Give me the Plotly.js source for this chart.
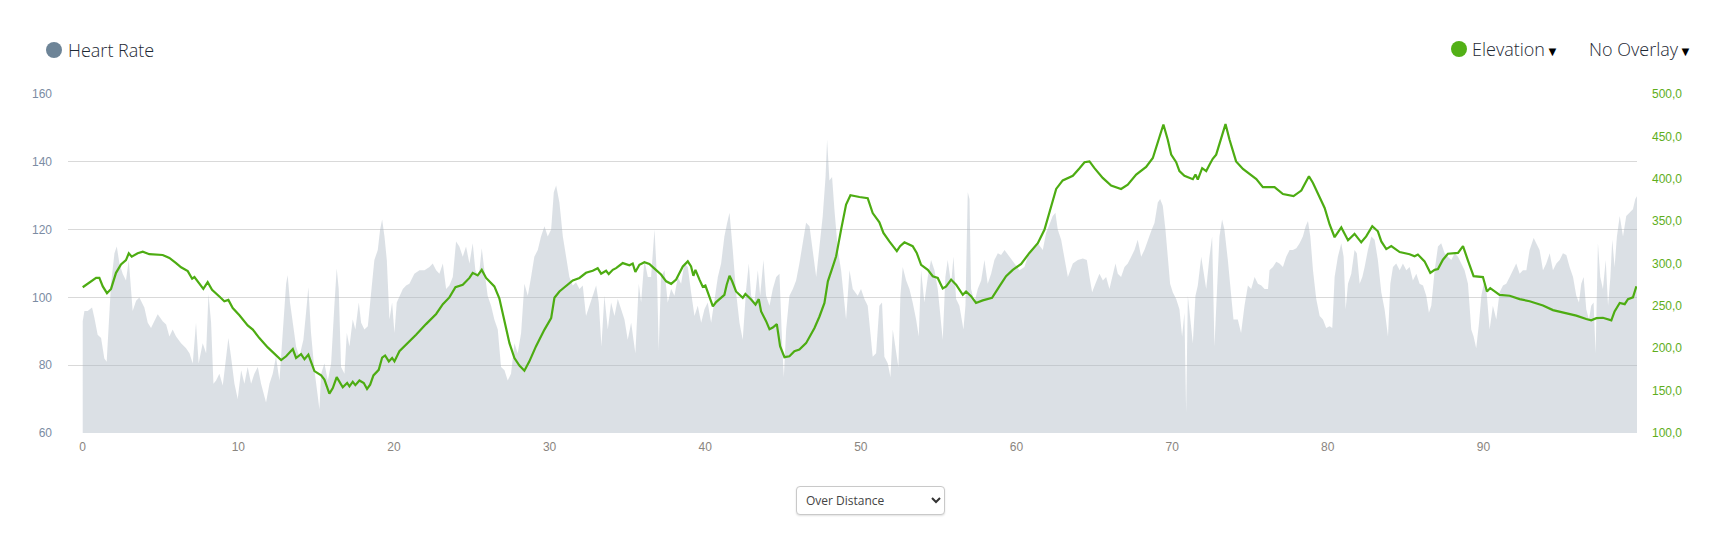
<!DOCTYPE html>
<html>
<head>
<meta charset="utf-8">
<script src="https://cdn.plot.ly/plotly-3.0.1.min.js"></script>
<style>
  html, body { margin: 0; padding: 0; background: #fff; }
  #wrap { position: relative; width: 1728px; height: 552px; overflow: hidden; }
  #chart { position: absolute; left: 0; top: 0; width: 1728px; height: 552px; }
  .hdr { position: absolute; font-family: "Open Sans", "Noto Sans", sans-serif; font-weight: 300;
         font-size: 18px; line-height: 20px; color: #1d2833; white-space: nowrap; z-index: 5; }
  .dot { position: absolute; width: 16px; height: 16px; border-radius: 50%; z-index: 5; }
  .arr { font-family: "DejaVu Sans", sans-serif; font-size: 13px; color: #000; margin-left: 1px; }
  #selwrap { position: absolute; left: 796px; top: 486px; width: 149px; height: 29px; z-index: 5; }
  #sel { -webkit-appearance: none; appearance: none; width: 149px; height: 29px; box-sizing: border-box;
         border: 1px solid #c9c9c9; border-radius: 4px; background: #fff; box-shadow: 0 1px 2px rgba(0,0,0,0.12);
         font-family: "Open Sans", sans-serif; font-size: 12px; color: #444; padding: 0 0 0 9px; outline: none; }
  #chev { position: absolute; left: 135px; top: 11px; pointer-events: none; }
</style>
</head>
<body>
<div id="wrap">
  <div id="chart"></div>
  <div class="dot" style="left:46px; top:42px; background:#6d8497;"></div>
  <div class="hdr" style="left:68px; top:40px;">Heart Rate</div>
  <div class="dot" style="left:1451px; top:41px; background:#52b016;"></div>
  <div class="hdr" style="left:1472px; top:39px;">Elevation<span class="arr">▼</span></div>
  <div class="hdr" style="left:1589px; top:39px;">No Overlay<span class="arr">▼</span></div>
  <div id="selwrap">
    <select id="sel"><option>Over Distance</option><option>Over Time</option></select>
    <svg id="chev" width="10" height="7" viewBox="0 0 10 7"><path d="M1 1 L5 5 L9 1" stroke="#333" stroke-width="2" fill="none"/></svg>
  </div>
</div>
<script>
// Distance (km) and heart rate (bpm)
const hrKm = [0.00,0.11,0.32,0.60,0.75,0.96,1.18,1.39,1.54,1.67,1.82,2.04,2.19,2.36,2.57,2.78,2.96,3.11,3.21,3.43,3.64,3.96,4.18,4.39,4.61,4.82,5.14,5.36,5.57,5.78,6.00,6.32,6.64,6.86,7.07,7.28,7.45,7.71,7.93,8.08,8.25,8.40,8.57,8.78,9.00,9.21,9.36,9.53,9.75,9.96,10.18,10.39,10.60,10.82,11.03,11.25,11.46,11.78,12.00,12.21,12.42,12.64,12.85,13.07,13.17,13.32,13.50,13.71,13.92,14.18,14.35,14.50,14.67,14.89,15.10,15.21,15.32,15.53,15.75,15.96,16.17,16.32,16.45,16.60,16.82,16.97,17.14,17.35,17.52,17.74,17.89,18.10,18.32,18.53,18.74,18.96,19.11,19.24,19.39,19.54,19.71,19.88,20.03,20.18,20.35,20.57,20.78,20.99,21.31,21.64,21.96,22.28,22.49,22.71,22.92,23.14,23.35,23.56,23.78,23.99,
24.20,24.42,24.63,24.85,25.06,25.23,25.45,25.64,25.81,26.02,26.24,26.45,26.67,26.88,27.10,27.31,27.52,27.74,27.95,28.17,28.38,28.60,28.81,29.02,29.24,29.45,29.67,29.88,30.10,30.27,30.42,30.63,30.85,31.06,31.27,31.49,31.70,31.92,32.13,32.34,32.56,32.77,32.99,33.16,33.33,33.52,33.74,33.95,34.17,34.38,34.59,34.81,35.02,35.24,35.51,35.73,35.88,36.09,36.31,36.52,36.74,36.91,37.01,37.16,37.38,37.59,37.81,38.02,38.24,38.45,38.66,38.88,39.09,39.31,39.52,39.74,39.95,40.16,40.38,40.59,40.81,41.02,41.23,41.41,41.56,41.77,41.98,42.20,42.41,42.63,42.80,42.95,43.16,43.38,43.53,43.74,43.91,44.13,44.34,44.56,44.77,44.94,45.05,45.20,45.41,45.63,45.84,46.05,46.27,46.48,46.70,46.91,47.13,47.34,47.55,47.73,47.83,47.98,48.15,48.30,48.52,48.73,48.88,49.05,49.27,49.48,
49.80,50.01,50.23,50.44,50.59,50.76,50.98,51.19,51.36,51.51,51.73,51.90,52.05,52.22,52.41,52.54,52.69,52.91,53.12,53.33,53.55,53.72,53.87,54.08,54.30,54.51,54.73,54.94,55.16,55.26,55.43,55.58,55.80,55.95,56.12,56.33,56.59,56.72,56.87,56.98,57.08,57.30,57.51,57.73,57.94,58.15,58.37,58.58,58.80,59.01,59.23,59.55,59.87,60.19,60.51,60.72,61.05,61.37,61.69,61.90,62.16,62.33,62.50,62.65,62.87,63.08,63.30,63.62,63.94,64.26,64.52,64.69,64.86,65.07,65.33,65.55,65.76,65.97,66.19,66.36,66.51,66.72,66.94,67.15,67.37,67.58,67.79,68.01,68.22,68.44,68.65,68.87,69.08,69.23,69.40,69.57,69.72,69.87,70.04,70.26,70.47,70.64,70.79,70.90,71.01,71.22,71.33,71.50,71.65,71.87,72.01,72.19,72.40,72.57,72.72,72.87,73.04,73.21,73.36,73.58,73.79,73.94,74.22,74.43,74.65,
74.87,75.08,75.30,75.51,75.73,75.94,76.16,76.26,76.48,76.69,76.90,77.12,77.33,77.55,77.76,77.98,78.19,78.40,78.58,78.73,78.88,79.05,79.26,79.48,79.69,79.90,80.12,80.29,80.44,80.65,80.87,81.02,81.15,81.30,81.51,81.72,81.87,82.05,82.22,82.37,82.58,82.80,83.01,83.22,83.44,83.65,83.87,84.02,84.19,84.40,84.62,84.83,85.05,85.26,85.47,85.69,85.90,86.12,86.33,86.50,86.65,86.87,87.08,87.29,87.51,87.72,87.94,88.15,88.37,88.58,88.79,89.01,89.22,89.37,89.54,89.72,89.87,90.02,90.19,90.40,90.61,90.83,91.04,91.26,91.47,91.69,91.90,92.11,92.33,92.54,92.76,92.97,93.23,93.40,93.61,93.83,94.04,94.26,94.47,94.69,94.90,95.11,95.33,95.54,95.76,95.97,96.14,96.29,96.44,96.61,96.78,96.93,97.08,97.21,97.36,97.51,97.68,97.86,98.01,98.16,98.28,98.43,98.58,98.76,98.97,99.18,99.40,99.61,99.76,99.89];
const hrBpm = [93,96,96,97,94,89,88,82,81,92,104,113,115,110,107,105,111,102,96,99,100,97,92.5,91,93,95,93,92,88.5,90.5,88.5,86.5,85,83.5,80.5,92.5,80.5,86.5,83.5,101,92.5,74.5,75.5,77.5,74,82.5,88,82.5,74.5,70,78.5,74.5,79.5,74.5,77.5,79.5,74.5,69,74.5,77.5,82.5,75.5,90.5,104,106.5,98.5,92.5,85.5,82.5,87.5,95.5,103,89.5,78.5,71,67,77.5,80.5,75.5,80.5,97.5,108.5,102.5,79.5,77.5,89.5,85.5,93.5,90.5,98.5,92.5,90.5,91.5,102.5,111,114,120,123,118,111,93.5,98.5,89.5,98.5,100.5,102.5,103.5,104,107,108,108,109,110,108,107,110,102.5,103.5,106,116.5,
115,112,115,110,116,108,106,114.5,108,100.5,97.5,93.5,90.5,79.5,78.5,75.5,77.5,86.5,83.5,89.5,104,100.5,106,112,114,118,121,118,120,131,133,128,118,112,106,103.5,104.5,102.5,103.5,94.5,97.5,100.5,103.5,98.5,85.5,100.5,90.5,98.5,94.5,99.5,96.5,93.5,87.5,92.5,83.5,104,98.5,111,106,106,120,105,84.5,106,108,98.5,102.5,100.5,106,104,110,109,101.5,94.5,97.5,92.5,96.5,98.5,92.5,98.5,106,110,118,122,125,114,101.5,92.5,87.5,102.5,110,100.5,98.5,108,100.5,111,100.5,97.5,102.5,106,107,86.5,76.5,90.5,100.5,102.5,105,110,116,122,121,114,106,115,124,135.5,146.5,134.5,135.5,126,114,108,100.5,93.5,108,102.5,
100.5,102.5,99.5,97.5,90.5,82.5,83.5,97.5,98.5,82.5,80.5,76.5,90.5,85,79.5,100.5,109,105,102.5,98.5,93.5,88.5,108,98.5,106,111,108,102.5,92.5,87.5,106,111,104,112,99.5,97.5,90.5,97.5,131,129,102.5,98.5,102.5,105,111,104,107,111,113,112.5,114,112,110,108,109,112,114,116,114,119,122,124,125,120,117,112,106,110,111,111.5,111,106,101.5,104,107,105,106,102.5,107,110,107,106,109,110,112,114,117,112,114,117,119.5,122,128,129,127,120,111,104,101.5,99.5,96.5,88.5,95.5,66,100.5,92.5,86.5,100.5,103.5,112,108,102.5,112,118,85.5,102.5,118,123,120,111,100.5,93.5,93.5,89.5,97.5,
103.5,102.5,106,104,103.5,102.5,102.5,108,109,110.5,110,109,112,114,114,114.5,116,118,121,122.5,118,108,99.5,94.5,93.5,91,91.5,91,106,112,116,112,96.5,104,107,114,113,104,106,109,114,118,117,111,101.5,96.5,88.5,104,109,110,108,110,108,109,105,107,104,103.5,100.5,95.5,97.5,108,115,116,113,112,111,113,112,110,108,104,90.5,88.5,85,92.5,100.5,104,102.5,90.5,97.5,93.5,101.5,103.5,104,106,108,110,107,108,108,114,117.5,116,114,108,110,113,108,110,111,113,112.5,109,106,100.5,98.5,104,106,96.5,93.5,97.5,98.5,83.5,116,106,102.5,111,97.5,106,117,109,118,124,118,124,125,126,129,130];

// Distance (km) and elevation (m)
const elKm = [0.00,0.54,0.86,1.07,1.29,1.56,1.82,2.14,2.46,2.78,2.96,3.15,3.53,3.86,4.28,5.14,5.57,6.00,6.32,6.75,7.03,7.18,7.45,7.75,8.03,8.31,8.78,9.10,9.36,9.64,10.07,10.60,10.93,11.35,11.89,12.32,12.75,13.07,13.50,13.71,14.03,14.25,14.50,14.89,15.32,15.53,15.85,16.07,16.32,16.71,16.99,17.14,17.35,17.52,17.78,18.06,18.27,18.47,18.68,19.02,19.24,19.43,19.67,19.88,20.03,20.35,20.78,21.42,22.06,22.71,23.14,23.56,23.95,
24.42,24.85,25.06,25.38,25.64,25.92,26.45,26.77,27.10,27.42,27.74,28.06,28.38,28.70,29.13,29.67,30.10,30.31,30.63,31.06,31.49,31.92,32.34,32.77,33.09,33.31,33.63,33.80,34.06,34.27,34.70,35.13,35.34,35.51,35.77,36.09,36.41,36.74,37.16,37.49,37.81,38.13,38.56,38.88,39.09,39.24,39.37,39.63,39.84,40.01,40.27,40.49,40.70,41.02,41.23,41.38,41.56,41.73,41.98,42.41,42.58,42.95,43.23,43.44,43.59,43.91,44.13,44.34,44.60,44.81,45.09,45.41,45.73,46.05,46.48,47.02,47.34,47.66,47.88,48.20,48.41,48.73,49.05,49.33,
49.59,49.91,50.44,50.76,51.19,51.45,51.83,52.31,52.52,52.80,53.33,53.59,53.87,54.30,54.62,54.94,55.26,55.48,55.80,56.12,56.55,56.76,57.08,57.40,57.83,58.43,58.90,59.33,59.76,60.30,60.83,61.37,61.80,62.12,62.55,62.97,63.62,64.05,64.37,64.69,65.01,65.54,66.08,66.72,67.15,67.69,68.33,68.76,69.08,69.44,69.72,69.94,70.26,70.47,70.79,71.33,71.50,71.65,71.93,72.19,72.40,72.61,72.83,73.15,73.43,73.69,74.11,
74.55,74.98,75.41,75.83,76.58,77.12,77.80,78.30,78.51,78.79,79.05,79.48,79.80,80.12,80.44,80.87,81.30,81.72,82.15,82.47,82.86,83.22,83.44,83.76,84.08,84.62,85.26,85.58,85.79,86.22,86.59,86.87,87.08,87.40,87.72,88.37,88.69,89.01,89.37,89.97,90.23,90.44,91.04,91.69,92.33,92.97,93.83,94.47,95.33,95.97,96.61,96.93,97.26,97.68,98.22,98.43,98.76,99.08,99.29,99.61,99.83];
const elM = [272,279,283,283,273,265,270,289,299,304,312,308,312,314,311,310,306.5,300.5,295.5,291,282,284,278,270,278,269,261,255.5,257,247.5,239,227,222,212,201,193,186,190.5,199,188.5,193,187,192.5,173,168,163,146.5,153,166,154,159,155,160.5,156.5,162,159,152,157,168,174.5,189,191.5,184.5,188.5,184.5,196.5,204,216,228.5,240.5,252,260,272,
275,283,289,286,292.5,283,273,259,233.5,206,188.5,179.5,173.5,184.5,202.5,222,235.5,259.5,267,274,280,283,289,291.5,294.5,288,291.5,287.5,292.5,294.5,300.5,298,300,290,298.5,301.5,299.5,294,287,279,276,281,296.5,302.5,296.5,285.5,292.5,281,272.5,274,259.5,249.5,254.5,259.5,263,275,285.5,279,267,259.5,264,257.5,251.5,258,243.5,232,222.5,224.5,228.5,202.5,189.5,190.5,196.5,198.5,206,224,237.5,253.5,279,296.5,308.5,340,369.5,380.5,
380,378.5,377,359.5,348.5,336,326,314.5,320.5,325,320.5,312.5,298.5,292.5,285,283,270.5,273,281,275,263,267,261.5,253.5,256.5,259.5,273,285,292.5,299.5,312.5,324,340,359.5,388,398,403.5,412.5,419.5,420.5,412.5,401,392,388,393,405,414,424.5,442,464,446,428.5,419.5,409,403.5,399.5,405,399,412.5,409,416.5,423.5,428.5,448,464.5,446,420.5,
411.5,405,399.5,390,390,382,379.5,386,393,403,395,377.5,365.5,346,331,342.5,327.5,335,325,332,344,338,326,317,320.5,313.5,311,308.5,310.5,302.5,289,292.5,293.5,304.5,311.5,312.5,320.5,303.5,285,284,267,271,263,262,258,255.5,250.5,245,241,238.5,234.5,233,235.5,236,233,243.5,253.5,252,258,260,273];

const xTicks = [0,10,20,30,40,50,60,70,80,90];
const hrTicks = [60,80,100,120,140,160];
const elTicks = [100,150,200,250,300,350,400,450,500];

const traces = [
  {
    x: hrKm, y: hrBpm, type: 'scatter', mode: 'lines', name: 'Heart Rate',
    line: { width: 0, color: 'rgba(170,181,193,0.45)' },
    fill: 'tozeroy', fillcolor: 'rgba(170,181,193,0.42)', hoverinfo: 'skip'
  },
  {
    x: elKm, y: elM, type: 'scatter', mode: 'lines', name: 'Elevation', yaxis: 'y2',
    line: { width: 2.2, color: '#4dac12' }, hoverinfo: 'skip'
  }
];

const layout = {
  width: 1728, height: 552,
  margin: { l: 68, r: 91, t: 94, b: 119, pad: 0 },
  paper_bgcolor: '#fff', plot_bgcolor: '#fff',
  showlegend: false,
  separators: ',.',
  font: { family: 'Liberation Sans, Arial, sans-serif' },
  xaxis: {
    range: [-0.945, 99.87], tickvals: xTicks, ticktext: xTicks.map(String),
    showgrid: false, zeroline: false, showline: false, ticks: '',
    tickfont: { size: 12, color: '#8a8580' }, ticklabelstandoff: 5, fixedrange: true
  },
  yaxis: {
    range: [60, 160], tickvals: hrTicks, ticktext: hrTicks.map(String),
    gridcolor: '#d9d9d9', gridwidth: 1, zeroline: false, showline: false, ticks: '',
    tickfont: { size: 12, color: '#7b8ca3' }, ticklabelstandoff: 15, fixedrange: true
  },
  yaxis2: {
    overlaying: 'y', side: 'right', range: [100, 500], tickvals: elTicks,
    tickformat: '.1f', showgrid: false, zeroline: false, showline: false, ticks: '',
    tickfont: { size: 12, color: '#5eae1c' }, ticklabelstandoff: 14, fixedrange: true
  }
};

Plotly.newPlot('chart', traces, layout, { displayModeBar: false, staticPlot: true });
</script>
</body>
</html>
